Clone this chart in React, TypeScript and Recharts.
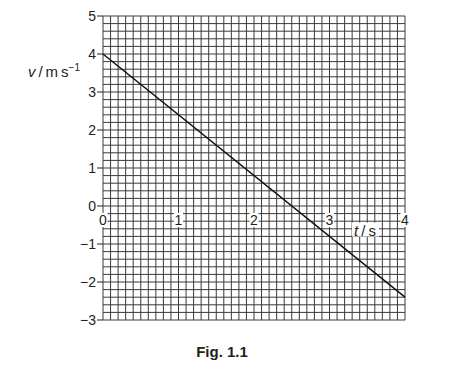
import React from "react";
import { LineChart, Line, XAxis, YAxis, ReferenceLine, ReferenceDot } from "recharts";

// data
const lineData = [
  { t: 0, v: 4 },
  { t: 4, v: -2.4 },
];
const xLabelTicks = [0, 1, 2, 3, 4];
const yLabelTicks = [-3, -2, -1, 0, 1, 2, 3, 4, 5];
const xDomain: [number, number] = [0, 4];
const yDomain: [number, number] = [-3, 5];
// fine grid: 10 divisions per second, 5 divisions per m/s
const xGridTicks = Array.from({ length: 41 }, (_, i) => i / 10);
const yGridTicks = Array.from({ length: 41 }, (_, i) => (i * 2 - 30) / 10);

const FONT = "'Liberation Sans', Arial, sans-serif";
const INK = "#231f20";
const GRID = "#3a3a3a";

const fmt = (n: number) => String(n).replace("-", "\u2212");

const XTickLabel = (label: string) => (props: any) => {
  const { cx, cy } = props;
  if (cx == null || cy == null) return <g />;
  return (
    <g>
      <rect x={cx - 4.5} y={cy + 7} width={9} height={14} fill="#fff" />
      <text
        x={cx}
        y={cy + 14}
        textAnchor="middle"
        dominantBaseline="central"
        fontSize={14}
        fontFamily={FONT}
        fill={INK}
      >
        {label}
      </text>
    </g>
  );
};

const TSLabel = (props: any) => {
  const { cx, cy } = props;
  if (cx == null || cy == null) return <g />;
  return (
    <g>
      <rect x={cx - 13} y={cy - 7} width={27} height={14} fill="#fff" />
      <text
        x={cx}
        y={cy}
        textAnchor="middle"
        dominantBaseline="central"
        fontSize={15}
        fontFamily={FONT}
        fill={INK}
      >
        <tspan fontStyle="italic">t</tspan>
        <tspan>{"\u2009/\u2009s"}</tspan>
      </text>
    </g>
  );
};

const VLabel = (props: any) => {
  const { cx, cy } = props;
  if (cx == null || cy == null) return <g />;
  return (
    <text
      x={cx - 23}
      y={cy + 4}
      textAnchor="end"
      fontSize={15}
      fontFamily={FONT}
      fill={INK}
    >
      <tspan fontStyle="italic">v</tspan>
      <tspan>{"\u2009/\u2009m\u2009s"}</tspan>
      <tspan fontSize={10} dy={-6}>{"\u22121"}</tspan>
    </text>
  );
};

export default function App() {
  return (
    <div
      style={{
        position: "absolute",
        left: 0,
        top: 0,
        width: 454,
        height: 376,
        background: "#fff",
      }}
    >
      <LineChart
        width={454}
        height={376}
        data={lineData}
        margin={{ top: 16, right: 49, bottom: 56, left: 63 }}
      >
        <XAxis dataKey="t" type="number" domain={xDomain} ticks={xLabelTicks} hide />
        <YAxis
          type="number"
          domain={yDomain}
          ticks={yLabelTicks}
          width={40}
          tickSize={6}
          tickMargin={1}
          tickFormatter={fmt}
          tick={{ fontSize: 14, fontFamily: FONT, fill: INK }}
          tickLine={{ stroke: INK, strokeWidth: 1 }}
          axisLine={false}
          interval={0}
        />
        {xGridTicks.map((t) => (
          <ReferenceLine key={"gx" + t} x={t} stroke={GRID} strokeWidth={1} ifOverflow="visible" />
        ))}
        {yGridTicks.map((v) => (
          <ReferenceLine key={"gy" + v} y={v} stroke={GRID} strokeWidth={1} ifOverflow="visible" />
        ))}
        <Line
          type="linear"
          dataKey="v"
          stroke="#111"
          strokeWidth={1.5}
          dot={false}
          isAnimationActive={false}
        />
        {xLabelTicks.map((t) => (
          <ReferenceDot
            key={t}
            x={t}
            y={0}
            r={0}
            ifOverflow="visible"
            shape={XTickLabel(fmt(t))}
          />
        ))}
        <ReferenceDot x={3.47} y={-0.62} r={0} ifOverflow="visible" shape={TSLabel} />
        <ReferenceDot x={0} y={3.5} r={0} ifOverflow="visible" shape={VLabel} />
      </LineChart>
      <div
        style={{
          position: "absolute",
          left: 0,
          width: 444,
          top: 343,
          textAlign: "center",
          fontFamily: FONT,
          fontWeight: "bold",
          fontSize: 15,
          color: INK,
        }}
      >
        Fig. 1.1
      </div>
    </div>
  );
}
